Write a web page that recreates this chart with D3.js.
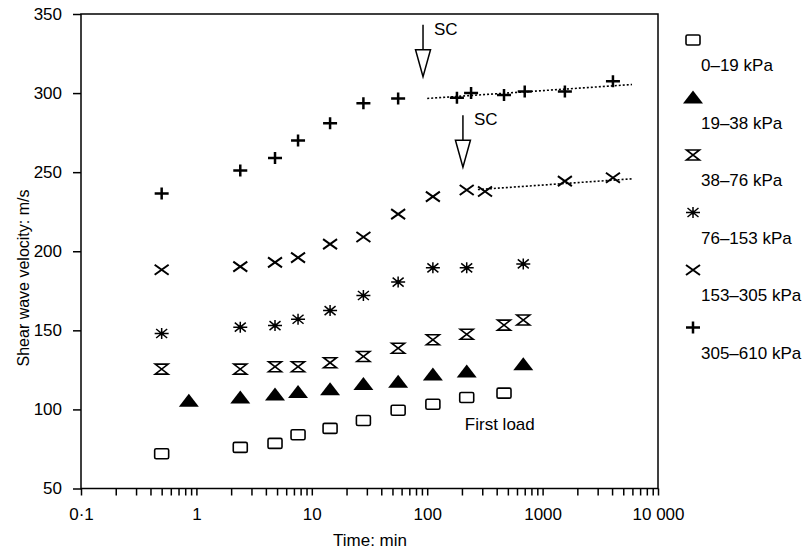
<!DOCTYPE html>
<html>
<head>
<meta charset="utf-8">
<script src="https://cdn.jsdelivr.net/npm/d3@7"></script>
<style>
  body { margin: 0; background: #fff; }
  svg { display: block; font-family: 'Liberation Sans', Arial, sans-serif; }
  .axis path, .axis line { stroke: #000; stroke-width: 1.5; }
  .axis text { fill: #000; font-size: 17px; }
</style>
</head>
<body>
<div id="chart"></div>
<script>
// data: [time (min), shear wave velocity (m/s)]
const series0to19 = [[0.5, 72], [2.4, 76], [4.8, 78.5], [7.6, 84], [14.4, 88], [28, 93], [56, 99.5], [112, 103.3], [220, 107.5], [463, 110.3]];
const series19to38 = [[0.86, 105.5], [2.4, 107.5], [4.8, 109.5], [7.6, 111], [14.4, 112.8], [28, 116], [56, 117.5], [112, 122], [220, 124], [680, 128.5]];
const series38to76 = [[0.5, 125.5], [2.4, 125.5], [4.8, 127], [7.6, 127], [14.4, 129.5], [28, 133.5], [56, 138.7], [112, 144], [220, 147.5], [463, 153.3], [680, 156.5]];
const series76to153 = [[0.5, 148], [2.4, 152], [4.8, 153], [7.6, 157], [14.4, 162.5], [28, 172], [56, 180.5], [112, 189.5], [220, 189.5], [680, 192]];
const series153to305 = [[0.5, 188.3], [2.4, 190.3], [4.8, 193], [7.6, 196], [14.4, 204.5], [28, 209], [56, 223.5], [112, 234.5], [220, 238.7], [317, 237.8], [1560, 244.3], [4070, 246.5]];
const series305to610 = [[0.5, 236.5], [2.4, 251], [4.8, 259], [7.6, 270], [14.4, 281], [28, 293.5], [56, 296.5], [181, 297], [240, 300], [463, 298.8], [700, 301], [1560, 301], [4070, 307.5]];

// dotted trend lines after secondary compression
const trend305to610 = [[100, 296.6], [5950, 305.4]];
const trend153to305 = [[275, 239], [5950, 245.8]];

// SC arrows: time, tip velocity
const arrowsSC = [[92, 310.4], [204, 253.1]];

const legendLabels = ['0–19 kPa', '19–38 kPa', '38–76 kPa', '76–153 kPa', '153–305 kPa', '305–610 kPa'];
const yTicks = [50, 100, 150, 200, 250, 300, 350];
const xDecades = [0.1, 1, 10, 100, 1000, 10000];
const xDecadeLabels = ['0·1', '1', '10', '100', '1000', '10 000'];

const allSeries = [series0to19, series19to38, series38to76, series76to153, series153to305, series305to610];
const markerKeys = ['square', 'triangle', 'hourglass', 'asterisk', 'cross', 'plus'];

// dimensions
const W = 811;
const H = 552;
const plotLeft = 81;
const plotRight = 658;
const plotTop = 14;
const plotBottom = 488.5;

const x = d3.scaleLog().domain([0.1, 10000]).range([plotLeft, plotRight]);
const y = d3.scaleLinear().domain([50, 350]).range([plotBottom, plotTop]);

const svg = d3.select('#chart').append('svg').attr('width', W).attr('height', H);

// frame
svg.append('rect')
  .attr('x', plotLeft).attr('y', plotTop)
  .attr('width', plotRight - plotLeft).attr('height', plotBottom - plotTop)
  .attr('fill', 'none').attr('stroke', '#000').attr('stroke-width', 1.5);

// axes
const minorTicks = [];
xDecades.slice(0, -1).forEach(d => {
  for (let i = 1; i < 10; i += 1) minorTicks.push(d * i);
});
minorTicks.push(10000);

svg.append('g')
  .attr('class', 'axis')
  .attr('transform', `translate(0, ${plotBottom})`)
  .call(d3.axisBottom(x)
    .tickValues(minorTicks)
    .tickSize(7)
    .tickSizeOuter(0)
    .tickPadding(12)
    .tickFormat(d => {
      const i = xDecades.findIndex(v => Math.abs(v - d) < d * 1e-6);
      return i >= 0 ? xDecadeLabels[i] : '';
    }));

svg.append('g')
  .attr('class', 'axis')
  .attr('transform', `translate(${plotLeft}, 0)`)
  .call(d3.axisLeft(y).tickValues(yTicks).tickSize(8).tickSizeOuter(0).tickPadding(11));

svg.selectAll('.axis .domain').remove();

svg.append('text')
  .attr('x', 370).attr('y', 546)
  .attr('text-anchor', 'middle')
  .style('font-size', '17px')
  .text('Time: min');

svg.append('text')
  .attr('transform', 'translate(29, 278) rotate(-90)')
  .attr('text-anchor', 'middle')
  .style('font-size', '16px')
  .text('Shear wave velocity: m/s');

// markers
function drawMarker($g, key) {
  if (key === 'square') {
    $g.append('rect').attr('x', -7).attr('y', -5).attr('width', 14).attr('height', 10).attr('rx', 1.5)
      .attr('fill', '#fff').attr('stroke', '#000').attr('stroke-width', 1.6);
  } else if (key === 'triangle') {
    $g.append('path').attr('d', 'M0,-7L10,6L-10,6Z').attr('fill', '#000');
  } else if (key === 'hourglass') {
    $g.append('path').attr('d', 'M-6.5,-5H6.5L-6.5,5H6.5Z')
      .attr('fill', '#fff').attr('stroke', '#000').attr('stroke-width', 1.6);
  } else if (key === 'asterisk') {
    $g.append('path').attr('d', 'M-7,0H7M0,-5.5V5.5M-5.5,-4.5L5.5,4.5M-5.5,4.5L5.5,-4.5')
      .attr('stroke', '#000').attr('stroke-width', 1.5);
    $g.append('circle').attr('r', 2).attr('fill', '#000');
  } else if (key === 'cross') {
    $g.append('path').attr('d', 'M-7,-5L7,5M-7,5L7,-5')
      .attr('stroke', '#000').attr('stroke-width', 2);
  } else if (key === 'plus') {
    $g.append('path').attr('d', 'M-7,0H7M0,-6V6')
      .attr('stroke', '#000').attr('stroke-width', 2.5);
  }
}

// trend lines
const line = d3.line().x(d => x(d[0])).y(d => y(d[1]));
[trend305to610, trend153to305].forEach(t => {
  svg.append('path')
    .attr('d', line(t))
    .attr('fill', 'none')
    .attr('stroke', '#000')
    .attr('stroke-width', 1.6)
    .attr('stroke-dasharray', '2,2');
});

// points
allSeries.forEach((data, i) => {
  svg.append('g')
    .selectAll('g')
    .data(data)
    .join('g')
    .attr('transform', d => `translate(${x(d[0])}, ${y(d[1])})`)
    .each(function () { drawMarker(d3.select(this), markerKeys[i]); });
});

// SC arrows
arrowsSC.forEach(d => {
  const ax = x(d[0]);
  const tip = y(d[1]);
  const triTop = tip - 27;
  svg.append('line')
    .attr('x1', ax).attr('x2', ax)
    .attr('y1', triTop - 25).attr('y2', triTop)
    .attr('stroke', '#000').attr('stroke-width', 1.5);
  svg.append('path')
    .attr('d', `M${ax - 7.5},${triTop}L${ax + 7.5},${triTop}L${ax},${tip}Z`)
    .attr('fill', '#fff').attr('stroke', '#000').attr('stroke-width', 1.5);
  svg.append('text')
    .attr('x', ax + 11).attr('y', triTop - 15)
    .style('font-size', '17px')
    .text('SC');
});

// label
svg.append('text')
  .attr('x', x(212)).attr('y', y(87))
  .style('font-size', '17px')
  .text('First load');

// legend
const $legend = svg.append('g').attr('class', 'legend');
legendLabels.forEach((label, i) => {
  const ly = 40 + i * 57.5;
  const $m = $legend.append('g').attr('transform', `translate(693, ${ly})`);
  drawMarker($m, markerKeys[i]);
  $legend.append('text')
    .attr('x', 701).attr('y', ly + 31)
    .style('font-size', '17px')
    .text(label);
});
</script>
</body>
</html>
